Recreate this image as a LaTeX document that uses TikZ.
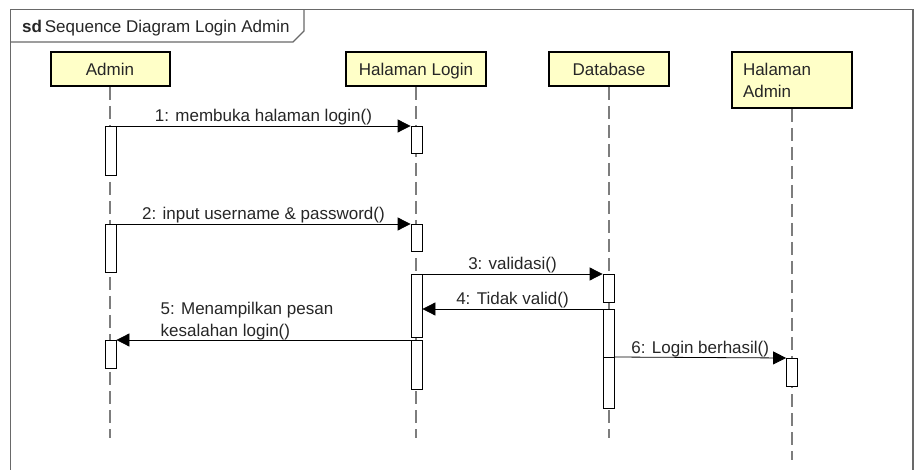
\documentclass[tikz,border=0pt]{standalone}
\usepackage{fontspec}
\setmainfont{Liberation Sans}
\usetikzlibrary{arrows.meta}
\usepackage{xcolor}
\definecolor{lifeyellow}{RGB}{255,255,200}
\definecolor{framegray}{RGB}{105,105,105}
\definecolor{dashgray}{RGB}{125,125,125}

\begin{document}
\begin{tikzpicture}[x=1pt, y=-1pt, >=stealth, font=\fontsize{17}{22}\selectfont, text=black!85]
\tikzset{actor/.style={draw=black, line width=2pt, fill=lifeyellow, minimum width=120pt, minimum height=34pt, inner sep=0pt, align=center} }
\tikzset{activ/.style={draw=black, fill=white, line width=0.8pt, minimum width=11pt, inner sep=0pt, anchor=north} }
\tikzset{lifeline/.style={draw=dashgray, line width=1.2pt, dash pattern=on 13pt off 6pt} }
\tikzset{>={Triangle[length=13pt, width=13pt]}}
\tikzset{msg/.style={->, line width=0.8pt} }
\useasboundingbox (0,0) rectangle (916,470);
% frame and title tab
\draw[framegray, line width=1.2pt] (10.5,9.5) rectangle (913,480);
\draw[framegray, line width=1.2pt] (10.5,42) -- (293,42) -- (304,31) -- (304,9.5);
\node[anchor=base west, inner sep=0pt] (title) at (22,33) {\textbf{sd}\,Sequence Diagram Login Admin};
% participants
\node[actor, minimum width=119pt] (admin) at (110,69) {Admin};
\node[actor, minimum width=140pt, text depth=0pt] (login) at (416,69) {Halaman Login};
\node[actor] (db) at (609,69) {Database};
\node[actor, minimum height=56pt, text width=98pt, align=left] (hadmin) at (792,80) {Halaman\\Admin};
% lifelines
\coordinate (end) at (0,438);
\coordinate (endha) at (0,460);
\draw[lifeline] (admin.south) -- (admin.south |- end);
\draw[lifeline] (login.south) -- (login.south |- end);
\draw[lifeline] (db.south) -- (db.south |- end);
\draw[lifeline] (hadmin.south) -- (hadmin.south |- endha);
% activations
\node[activ, minimum height=49pt] (a1) at (110.5,126) {};
\node[activ, minimum height=48pt] (a2) at (110.5,224) {};
\node[activ, minimum height=28pt] (a3) at (110.5,340) {};
\node[activ, minimum height=27pt] (b1) at (416.5,126) {};
\node[activ, minimum height=27pt] (b2) at (416.5,224) {};
\node[activ, minimum height=63pt] (b3) at (416.5,274) {};
\node[activ, minimum height=49pt] (b4) at (416.5,340) {};
\node[activ, minimum height=28pt] (c1) at (608.5,274) {};
\node[activ, minimum height=48pt] (c2) at (608.5,309) {};
\node[activ, minimum height=51pt] (c3) at (608.5,357) {};
\node[activ, minimum height=28pt] (d1) at (792,358) {};
% messages
\draw[msg] (a1.north east) -- node[above, inner sep=0.5pt] {1: membuka halaman login()} (b1.north west);
\draw[msg] (a2.north east) -- node[above, inner sep=0.5pt] {2: input username \& password()} (b2.north west);
\draw[msg] (b3.north east) -- node[above, inner sep=0.5pt] {3: validasi()} (c1.north west);
\draw[msg] (c2.north west) -- node[above, inner sep=0.5pt] {4: Tidak valid()} (c2.north west -| b3.east);
\draw[msg] (b4.north west) -- node[pos=0.851, anchor=south west, inner sep=0pt, align=left] {5: Menampilkan pesan\\kesalahan login()} (a3.north east);
\draw[msg] (c3.north east) -- node[above, inner sep=0.5pt] {6: Login berhasil()} (d1.north west);
\end{tikzpicture}
\end{document}
